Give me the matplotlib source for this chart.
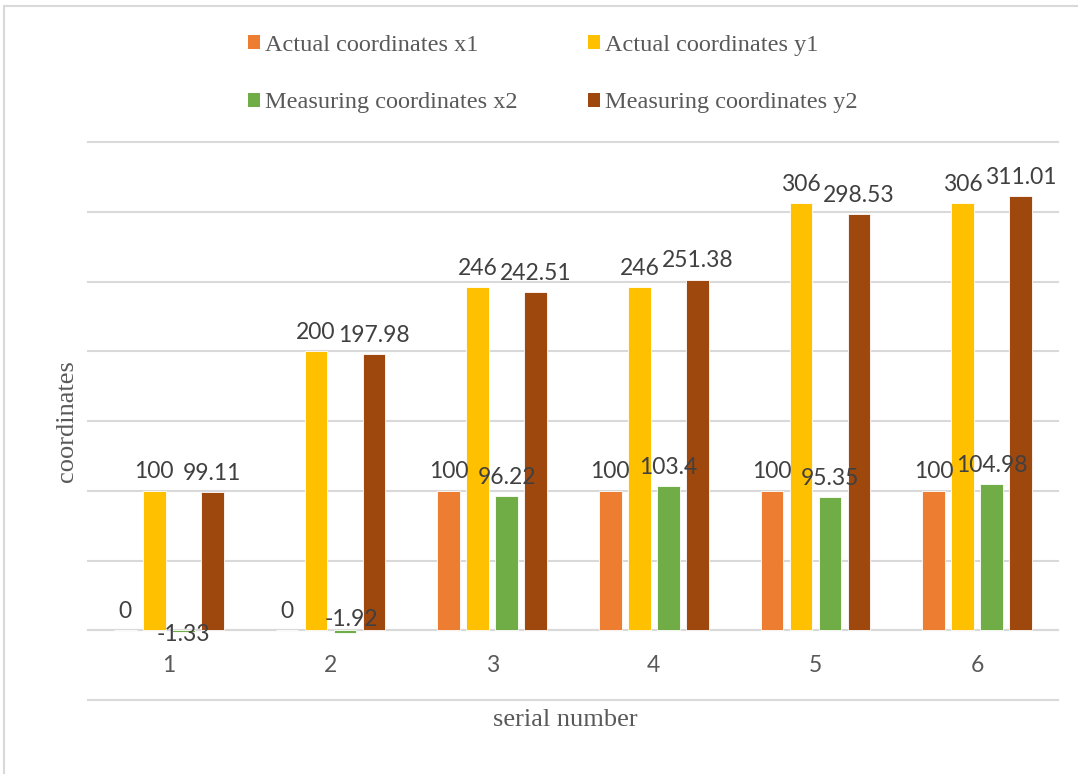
import numpy as np
import matplotlib
matplotlib.use('Agg')
import matplotlib.pyplot as plt
from matplotlib.patches import Patch, Rectangle

# datos del grafico
serial = [1, 2, 3, 4, 5, 6]
x1_actual = [0, 0, 100, 100, 100, 100]
y1_actual = [100, 200, 246, 246, 306, 306]
x2_measured = [-1.33, -1.92, 96.22, 103.4, 95.35, 104.98]
y2_measured = [99.11, 197.98, 242.51, 251.38, 298.53, 311.01]
series_names = ['Actual coordinates x1', 'Actual coordinates y1',
                'Measuring coordinates x2', 'Measuring coordinates y2']
label_text = [
    ['0', '0', '100', '100', '100', '100'],
    ['100', '200', '246', '246', '306', '306'],
    ['-1.33', '-1.92', '96.22', '103.4', '95.35', '104.98'],
    ['99.11', '197.98', '242.51', '251.38', '298.53', '311.01'],
]

colors = ['#ED7D31', '#FFC000', '#70AD47', '#9E480E']
serif = 'Liberation Serif'
label_font = ['Lato', 'DejaVu Sans']
lbl_size = 16.5

fig = plt.figure(figsize=(10.78, 7.74), dpi=100)
ax = fig.add_axes([88 / 1078, 1 - 700 / 774, 970 / 1078, 558 / 774])

# marco exterior gris claro
fig.patches.append(Rectangle((4 / 1078, -0.1), 1.2, 1 - 6 / 774 + 0.1,
                             transform=fig.transFigure, fill=False,
                             edgecolor='#D9D9D9', lw=1.5))

all_series = [x1_actual, y1_actual, x2_measured, y2_measured]
slot = 0.1794
width = 0.142
xs = np.array(serial, dtype=float)

for i, vals in enumerate(all_series):
    pos = xs + (i - 1.5) * slot
    ax.bar(pos, vals, width=width, color=colors[i], edgecolor='white',
           linewidth=0.6, zorder=3)
    for j, v in enumerate(vals):
        if v < 0 and j == 0:
            ax.annotate(label_text[i][j], (pos[j], 0), xytext=(0, -3),
                        textcoords='offset points', ha='center', va='center',
                        fontsize=lbl_size, color='#404040', family=label_font,
                        zorder=4)
        elif v < 0:
            ax.annotate(label_text[i][j], (pos[j] + 0.04, 0), xytext=(0, 8),
                        textcoords='offset points', ha='center', va='center',
                        fontsize=lbl_size, color='#404040', family=label_font,
                        zorder=4)
        else:
            ax.annotate(label_text[i][j], (pos[j], v), xytext=(0, 13.5),
                        textcoords='offset points', ha='center', va='center',
                        fontsize=lbl_size, color='#404040', family=label_font,
                        zorder=4)

ax.set_xlim(0.5, 6.5)
ax.set_ylim(-50, 350)
ax.set_yticks(np.arange(-50, 351, 50))
ax.yaxis.grid(True, color='#D9D9D9', lw=1.5, zorder=0)
for g in ax.get_ygridlines():
    g.set_clip_on(False)
ax.set_axisbelow(True)
for s in ['top', 'right', 'left']:
    ax.spines[s].set_visible(False)
ax.spines['bottom'].set_position(('data', 0))
ax.spines['bottom'].set_color('#D9D9D9')
ax.spines['bottom'].set_linewidth(1.5)
ax.set_xticks(serial)
ax.set_xticklabels([str(s) for s in serial], fontsize=lbl_size,
                   color='#595959', family=label_font)
ax.tick_params(axis='x', length=0, pad=18)
ax.tick_params(axis='y', length=0, labelleft=False)

fig.text(67 / 1078, 1 - 421 / 774, 'coordinates', rotation=90, ha='center',
         va='center', fontsize=19, color='#595959', family=serif)
fig.text(565 / 1078, 1 - 720 / 774, 'serial number', ha='center',
         va='center', fontsize=19, color='#595959', family=serif)

handles = [Patch(facecolor=c, edgecolor='none') for c in colors]
# orden: x1, y1 en la primera fila; x2, y2 en la segunda
order = [0, 2, 1, 3]
leg = fig.legend([handles[k] for k in order], [series_names[k] for k in order],
                 ncol=2, loc='upper left',
                 bbox_to_anchor=(248 / 1078, 1 - 35 / 774),
                 frameon=False, borderpad=0, borderaxespad=0,
                 handlelength=0.5, handleheight=0.5, handletextpad=0.2,
                 labelspacing=1.5, columnspacing=2.9,
                 prop={'family': serif, 'size': 17.5})
for t in leg.get_texts():
    t.set_color('#595959')

fig.savefig('out.png', dpi=100)
